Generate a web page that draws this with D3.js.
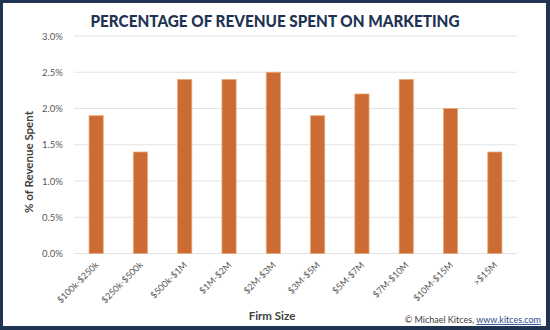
<!DOCTYPE html>
<html>
<head>
<meta charset="utf-8">
<script src="https://cdn.jsdelivr.net/npm/d3@7"></script>
<style>
  html, body { margin: 0; padding: 0; background: #fff; }
  svg { display: block; }
</style>
</head>
<body>
<svg id="chart" width="550" height="330"></svg>
<script>
const categories = ['$100k-$250k', '$250k-$500k', '$500k-$1M', '$1M-$2M', '$2M-$3M',
  '$3M-$5M', '$5M-$7M', '$7M-$10M', '$10M-$15M', '>$15M'];
const values = [1.9, 1.4, 2.4, 2.4, 2.5, 1.9, 2.2, 2.4, 2.0, 1.4];
const yTicks = [0, 0.5, 1.0, 1.5, 2.0, 2.5, 3.0];

const width = 550;
const height = 330;
const margin = { top: 36, right: 33, bottom: 76.5, left: 74 };
const frame = '#1f3352';
const font = 'Lato, "Open Sans", sans-serif';

const svg = d3.select('#chart');

// frame
svg.append('rect')
  .attr('width', width).attr('height', height)
  .attr('fill', frame);
svg.append('rect')
  .attr('x', 3).attr('y', 3)
  .attr('width', width - 7).attr('height', height - 7)
  .attr('fill', '#fff');

const xScale = d3.scaleBand()
  .domain(categories)
  .range([margin.left, width - margin.right])
  .paddingInner(0.68)
  .paddingOuter(0.34);

const yScale = d3.scaleLinear()
  .domain([0, 3])
  .range([height - margin.bottom, margin.top]);

// gridlines
svg.append('g')
  .selectAll('line')
  .data(yTicks)
  .join('line')
  .attr('x1', margin.left)
  .attr('x2', width - margin.right)
  .attr('y1', (d) => yScale(d))
  .attr('y2', (d) => yScale(d))
  .attr('stroke', '#e3e3e3')
  .attr('stroke-width', 1);

// y axis labels
const yAxis = d3.axisLeft(yScale)
  .tickValues(yTicks)
  .tickFormat((d) => d.toFixed(1) + '%')
  .tickSize(0)
  .tickPadding(11);

svg.append('g')
  .attr('transform', `translate(${margin.left},0)`)
  .call(yAxis)
  .call((g) => g.select('.domain').remove())
  .selectAll('text')
  .attr('fill', '#595959')
  .style('font-family', font)
  .style('font-size', '9.5px');

// bars
svg.append('g')
  .selectAll('rect')
  .data(values)
  .join('rect')
  .attr('x', (d, i) => xScale(categories[i]))
  .attr('y', (d) => yScale(d))
  .attr('width', xScale.bandwidth())
  .attr('height', (d) => yScale(0) - yScale(d))
  .attr('fill', '#cc6c34')
  .attr('stroke', '#e9a878')
  .attr('stroke-width', 0.8);

// x axis labels
const xAxis = d3.axisBottom(xScale).tickSize(0).tickPadding(0);
svg.append('g')
  .attr('transform', `translate(0,${yScale(0)})`)
  .call(xAxis)
  .call((g) => g.select('.domain').remove())
  .selectAll('text')
  .attr('fill', '#595959')
  .attr('text-anchor', 'end')
  .attr('dy', null)
  .attr('y', 0)
  .attr('transform', 'translate(3,12) rotate(-45)')
  .style('font-family', font)
  .style('font-size', '9px');

// title
svg.append('text')
  .attr('x', 275)
  .attr('y', 27)
  .attr('text-anchor', 'middle')
  .attr('fill', '#1f3352')
  .attr('textLength', 369)
  .attr('lengthAdjust', 'spacingAndGlyphs')
  .style('font-family', font)
  .style('font-weight', 900)
  .style('font-size', '17px')
  .text('PERCENTAGE OF REVENUE SPENT ON MARKETING');

// axis titles
svg.append('text')
  .attr('transform', 'translate(33,162) rotate(-90)')
  .attr('text-anchor', 'middle')
  .attr('fill', '#404040')
  .style('font-family', font)
  .style('font-weight', 'bold')
  .style('font-size', '11.5px')
  .text('% of Revenue Spent');

svg.append('text')
  .attr('x', 272)
  .attr('y', 320)
  .attr('text-anchor', 'middle')
  .attr('fill', '#404040')
  .style('font-family', font)
  .style('font-weight', 'bold')
  .style('font-size', '11.5px')
  .text('Firm Size');

// credit
const credit = svg.append('text')
  .attr('x', 541)
  .attr('y', 323)
  .attr('text-anchor', 'end')
  .attr('fill', '#404040')
  .style('font-family', font)
  .style('font-size', '9px');
credit.append('tspan').text('© Michael Kitces, ');
credit.append('tspan')
  .attr('fill', '#2a4a8a')
  .attr('text-decoration', 'underline')
  .text('www.kitces.com');
</script>
</body>
</html>
